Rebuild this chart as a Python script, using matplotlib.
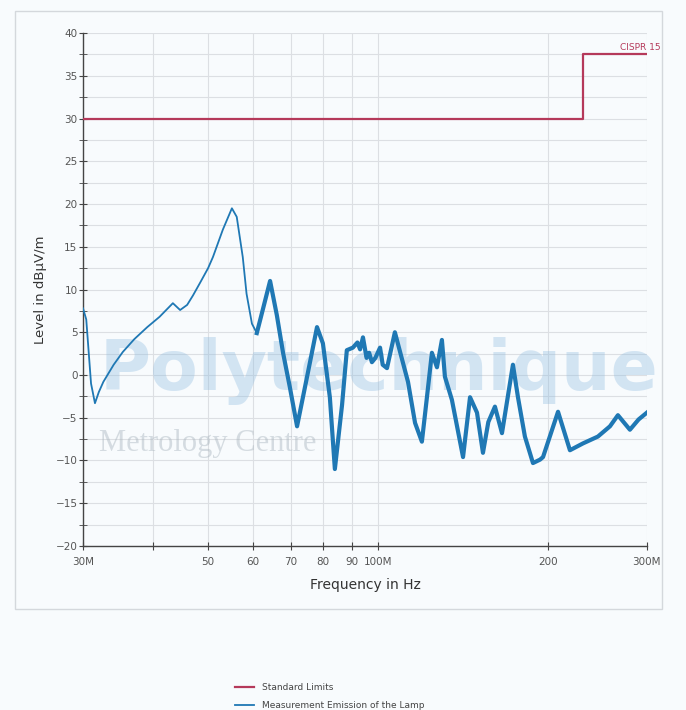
import matplotlib
matplotlib.use("Agg")
import matplotlib.pyplot as plt
import numpy as np
from matplotlib.patches import Rectangle
from matplotlib.ticker import FixedLocator, NullFormatter

# measured emission (frequency in MHz, level in dBuV/m)
freq_mhz = [
    30.0, 30.4, 31.0, 31.5, 32.0, 32.6, 34.0, 35.3, 37.0, 39.0, 41.0, 43.3,
    44.6, 45.9, 47.0, 48.4, 50.0, 51.0, 53.1, 55.1, 56.2, 57.6, 58.5, 59.8,
    61.0, 62.6, 64.4, 66.2, 67.9, 69.8, 71.9, 74.9, 78.0, 79.9, 82.2, 83.9,
    86.4, 88.1, 90.3, 92.0, 93.0, 94.1, 95.5, 96.5, 97.6, 99.0, 100.9, 102.0,
    103.8, 107.2, 113.1, 116.4, 119.7, 122.0, 124.7, 127.3, 129.9, 131.5,
    135.3, 141.6, 145.7, 149.9, 153.6, 157.0, 161.3, 166.0, 173.6, 177.2,
    182.3, 188.4, 193.9, 196.3, 208.7, 219.1, 231.1, 245.6, 258.0, 266.5,
    279.9, 290.0, 300.0,
]
level_dbuv = [
    7.8, 6.5, -1.0, -3.3, -2.0, -0.8, 1.2, 2.7, 4.2, 5.6, 6.8, 8.4,
    7.6, 8.2, 9.3, 10.8, 12.5, 13.8, 17.0, 19.5, 18.5, 13.8, 9.5, 6.0,
    4.9, 7.8, 11.0, 7.0, 2.6, -1.4, -6.0, -0.2, 5.6, 3.7, -2.6, -11.0,
    -3.5, 2.9, 3.2, 3.8, 3.0, 4.4, 2.0, 2.6, 1.5, 2.0, 3.2, 1.2,
    0.8, 5.0, -0.8, -5.6, -7.8, -3.0, 2.6, 0.9, 4.1, -0.2,
    -2.9, -9.6, -2.6, -4.4, -9.1, -5.5, -3.7, -6.8, 1.2, -2.6,
    -7.2, -10.3, -9.9, -9.6, -4.3, -8.8, -8.0, -7.2, -6.0, -4.7,
    -6.4, -5.2, -4.4,
]

# CISPR 15 standard limit
limit_freq = [30.0, 231.0, 231.0, 300.0]
limit_level = [30.0, 30.0, 37.5, 37.5]

x_ticks = [30, 40, 50, 60, 70, 80, 90, 100, 200, 300]
x_tick_labels = ["30M", "", "50", "60", "70", "80", "90", "100M", "200", "300M"]
y_ticks = [40, 35, 30, 25, 20, 15, 10, 5, 0, -5, -10, -15, -20]

BLUE = "#1f78b4"
RED = "#b5395a"
GREY = "#555555"

fig = plt.figure(figsize=(6.86, 7.10), dpi=100, facecolor="#f8fbfd")
ax = fig.add_axes([0.121, 0.231, 0.822, 0.7225])
ax.set_facecolor("#f8fbfd")

# outer chart frame
fig.patches.append(Rectangle((0.022, 0.142), 0.943, 0.842, transform=fig.transFigure,
                             fill=False, edgecolor="#d4d8dc", linewidth=1.0))

ax.set_xscale("log")
ax.set_xlim(30, 300)
ax.set_ylim(-20, 40)

ax.xaxis.set_major_locator(FixedLocator(x_ticks))
ax.xaxis.set_minor_locator(FixedLocator([]))
ax.set_xticklabels(x_tick_labels)
ax.xaxis.set_minor_formatter(NullFormatter())
ax.set_yticks(y_ticks)
ax.set_yticks(np.arange(-17.5, 40, 5), minor=True)

ax.grid(True, which="major", color="#dcdfe3", linewidth=0.8)
ax.grid(True, which="minor", axis="y", color="#dcdfe3", linewidth=0.8)
ax.set_axisbelow(True)

for side in ["top", "right"]:
    ax.spines[side].set_visible(False)
for side in ["left", "bottom"]:
    ax.spines[side].set_color("#444444")
    ax.spines[side].set_linewidth(1.0)

ax.tick_params(axis="both", which="both", direction="inout", length=6,
               color="#444444", labelsize=7.5, labelcolor=GREY)
ax.tick_params(axis="x", pad=5)
ax.tick_params(axis="y", pad=1)

# faint watermark inside the plot area
ax.text(0.145, 0.478, "Polytechnique", transform=fig.transFigure, fontsize=50,
        fontweight="bold", color="#8dbbe0", alpha=0.35, zorder=1.5,
        clip_on=False, va="center", ha="left")
ax.text(0.145, 0.375, "Metrology Centre", transform=fig.transFigure, fontsize=22,
        family="Liberation Serif", color="#aab6bf", alpha=0.45, zorder=1.5,
        clip_on=False, va="center", ha="left")

ax.plot(limit_freq, limit_level, color=RED, linewidth=1.6, zorder=3,
        label="Standard Limits")

f = np.array(freq_mhz)
lv = np.array(level_dbuv)
ax.plot(f, lv, color=BLUE, linewidth=1.3, zorder=3,
        label="Measurement Emission of the Lamp")
thick = f >= 61.0
ax.plot(f[thick], lv[thick], color=BLUE, linewidth=3.0, zorder=3,
        solid_joinstyle="round")

ax.annotate("CISPR 15", xy=(300, 37.5), xytext=(10, 2), textcoords="offset points",
            ha="right", va="bottom", fontsize=6.5, color=RED)

ax.set_xlabel("Frequency in Hz", fontsize=10, color="#333333", labelpad=8)
ax.set_ylabel("Level in dBµV/m", fontsize=9.5, color="#333333", labelpad=6)

handles, labels = ax.get_legend_handles_labels()
fig.legend(handles, labels, loc="lower left", bbox_to_anchor=(0.33, -0.012),
           frameon=False, fontsize=6.5, labelcolor="#444444", handlelength=2.2,
           labelspacing=1.0)

fig.savefig("out.png", dpi=100, facecolor=fig.get_facecolor())
